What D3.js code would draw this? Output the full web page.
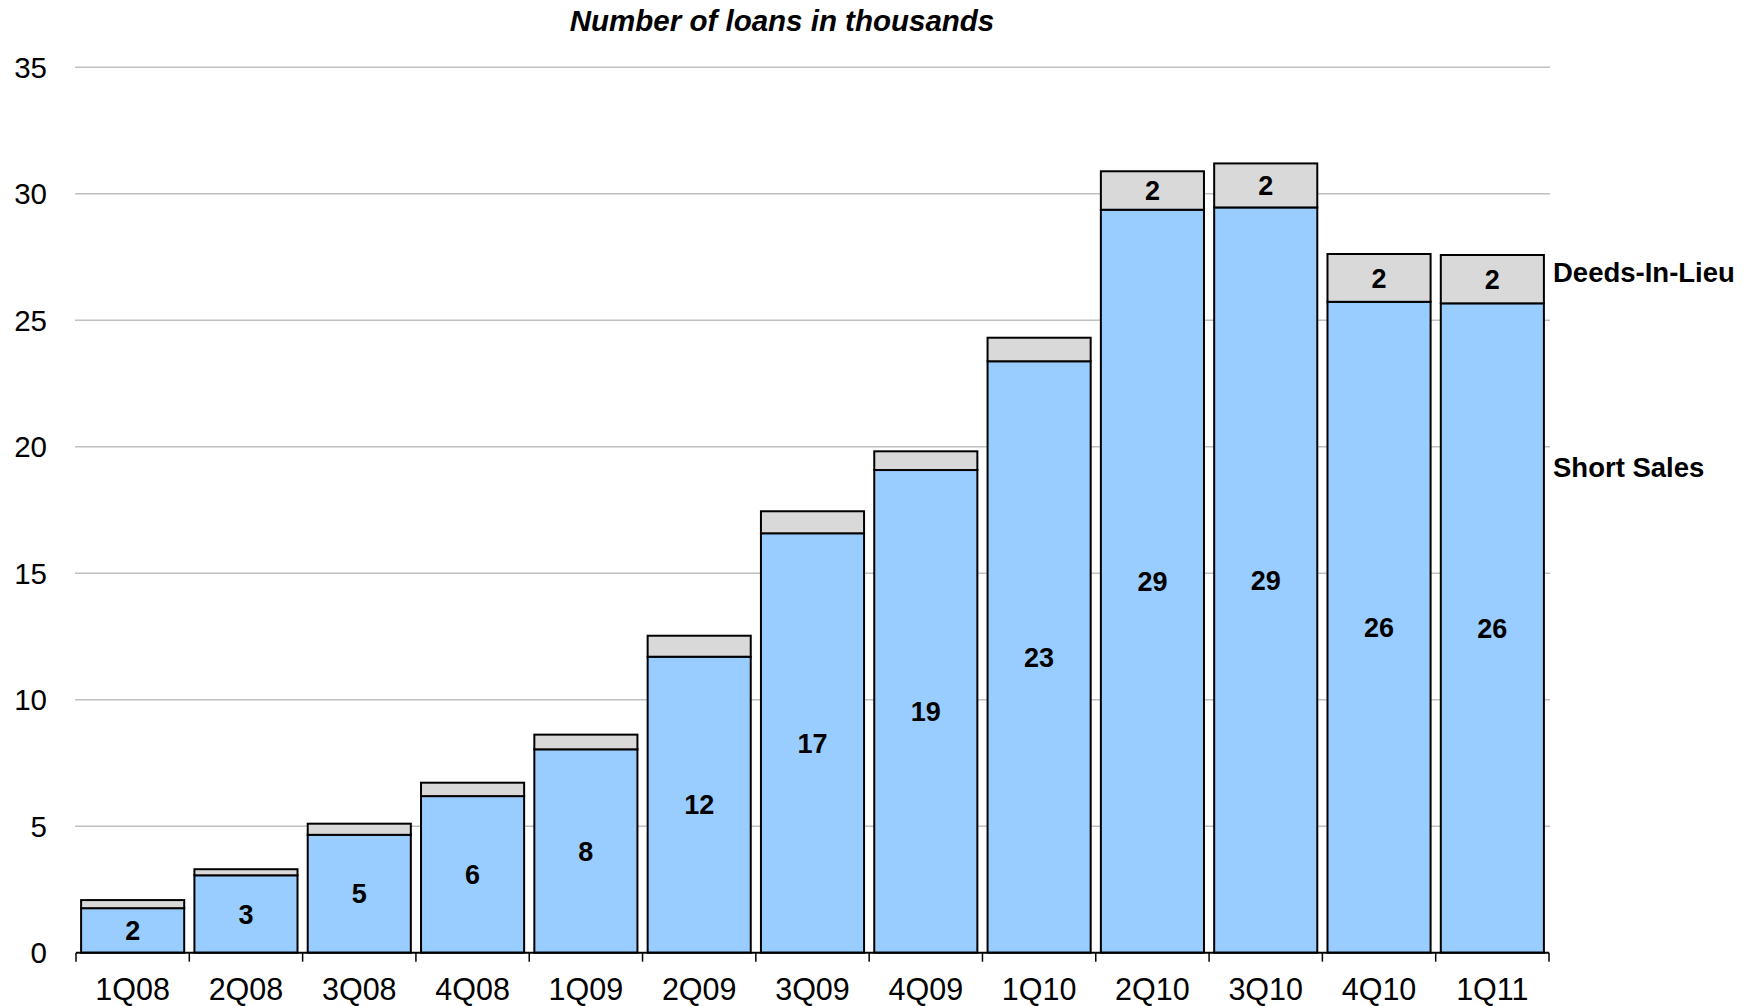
<!DOCTYPE html>
<meta charset="utf-8">
<style>
  body {
    margin: 0;
    background: #fff;
    font-family: "Liberation Sans", Arial, sans-serif;
  }
  .grid line {
    stroke: #c0c0c0;
    stroke-width: 1.5;
  }
  .bar {
    stroke: #000;
    stroke-width: 2;
  }
  .value {
    font-size: 27px;
    font-weight: bold;
    text-anchor: middle;
  }
</style>
<body>
  <script src="https://d3js.org/d3.v7.min.js"></script>
  <script>
    // values, thousands of loans
    var quarters = ["1Q08", "2Q08", "3Q08", "4Q08", "1Q09", "2Q09", "3Q09", "4Q09", "1Q10", "2Q10", "3Q10", "4Q10", "1Q11"];
    var shortSales = [1.76, 3.06, 4.66, 6.19, 8.04, 11.70, 16.58, 19.08, 23.38, 29.37, 29.46, 25.73, 25.67];
    var deedsInLieu = [0.32, 0.24, 0.44, 0.53, 0.58, 0.83, 0.87, 0.74, 0.93, 1.52, 1.74, 1.89, 1.91];
    var yTicks = [0, 5, 10, 15, 20, 25, 30, 35];
    var seriesNames = ["Short Sales", "Deeds-In-Lieu"];

    var width = 1756,
    height = 1006;
    var plotLeft = 76, plotRight = 1549, plotTop = 67.3, plotBottom = 952.7;

    var rows = quarters.map(function(q, i) {
      return { q: q, ss: shortSales[i], dil: deedsInLieu[i] };
    });

    var x = d3.scaleBand()
    .domain(quarters)
    .range([plotLeft, plotRight])
    .paddingInner(0.09)
    .paddingOuter(0.045);

    var y = d3.scaleLinear()
    .domain([0, 35])
    .range([plotBottom, plotTop]);

    var stack = d3.stack().keys(["ss", "dil"]);
    var layers = stack(rows);
    var colors = ["#99ccff", "#d9d9d9"];

    var svg = d3.select("body").append("svg")
    .attr("width", width)
    .attr("height", height);

    // gridlines
    svg.append("g").attr("class", "grid")
    .selectAll("line")
    .data(yTicks.filter(function(d) { return d > 0; }))
    .join("line")
    .attr("x1", plotLeft - 1)
    .attr("x2", plotRight + 1)
    .attr("y1", function(d) { return y(d); })
    .attr("y2", function(d) { return y(d); });

    // y labels
    svg.append("g")
    .selectAll("text")
    .data(yTicks)
    .join("text")
    .attr("x", 47)
    .attr("y", function(d) { return y(d); })
    .attr("dy", "0.36em")
    .attr("text-anchor", "end")
    .style("font-size", "29.5px")
    .text(function(d) { return d; });

    // stacked bars
    svg.append("g")
    .selectAll("g")
    .data(layers)
    .join("g")
    .attr("fill", function(d, i) { return colors[i]; })
    .selectAll("rect")
    .data(function(d) { return d; })
    .join("rect")
    .attr("class", "bar")
    .attr("x", function(d) { return x(d.data.q); })
    .attr("width", x.bandwidth())
    .attr("y", function(d) { return y(d[1]); })
    .attr("height", function(d) { return y(d[0]) - y(d[1]); });

    // x axis line and ticks at band edges
    var step = x.step();
    var edges = quarters.map(function(q) { return x(q) - step * x.paddingInner() / 2; });
    edges.push(plotRight);
    var axis = svg.append("g").attr("stroke", "#000");
    axis.append("line")
    .attr("x1", plotLeft).attr("x2", plotRight)
    .attr("y1", plotBottom).attr("y2", plotBottom)
    .attr("stroke-width", 2);
    axis.selectAll(".tick")
    .data(edges)
    .join("line")
    .attr("class", "tick")
    .attr("x1", function(d) { return d; })
    .attr("x2", function(d) { return d; })
    .attr("y1", plotBottom)
    .attr("y2", plotBottom + 9)
    .attr("stroke-width", 1.5);

    svg.append("g")
    .selectAll("text")
    .data(quarters)
    .join("text")
    .attr("x", function(d) { return x(d) + x.bandwidth() / 2; })
    .attr("y", 1000)
    .attr("text-anchor", "middle")
    .style("font-size", "30.5px")
    .text(function(d) { return d; });

    // value labels
    var fmt = d3.format(".0f");
    svg.append("g")
    .selectAll("text")
    .data(layers[0])
    .join("text")
    .attr("class", "value")
    .attr("x", function(d) { return x(d.data.q) + x.bandwidth() / 2; })
    .attr("y", function(d) { return (y(d[0]) + y(d[1])) / 2; })
    .attr("dy", "0.36em")
    .text(function(d) { return fmt(d[1] - d[0]); });

    svg.append("g")
    .selectAll("text")
    .data(layers[1].filter(function(d) { return d[1] - d[0] >= 1.5; }))
    .join("text")
    .attr("class", "value")
    .attr("x", function(d) { return x(d.data.q) + x.bandwidth() / 2; })
    .attr("y", function(d) { return (y(d[0]) + y(d[1])) / 2; })
    .attr("dy", "0.36em")
    .text(function(d) { return fmt(d[1] - d[0]); });

    // series names on the right
    svg.append("g")
    .selectAll("text")
    .data([{ name: seriesNames[1], v: 26.9 }, { name: seriesNames[0], v: 19.2 }])
    .join("text")
    .attr("x", 1553)
    .attr("y", function(d) { return y(d.v); })
    .attr("dy", "0.36em")
    .style("font-size", "27.5px")
    .style("font-weight", "bold")
    .text(function(d) { return d.name; });

    // title
    svg.append("text")
    .attr("x", 782)
    .attr("y", 31)
    .attr("text-anchor", "middle")
    .style("font-size", "29.5px")
    .style("font-weight", "bold")
    .style("font-style", "italic")
    .text("Number of loans in thousands");
  </script>
</body>
